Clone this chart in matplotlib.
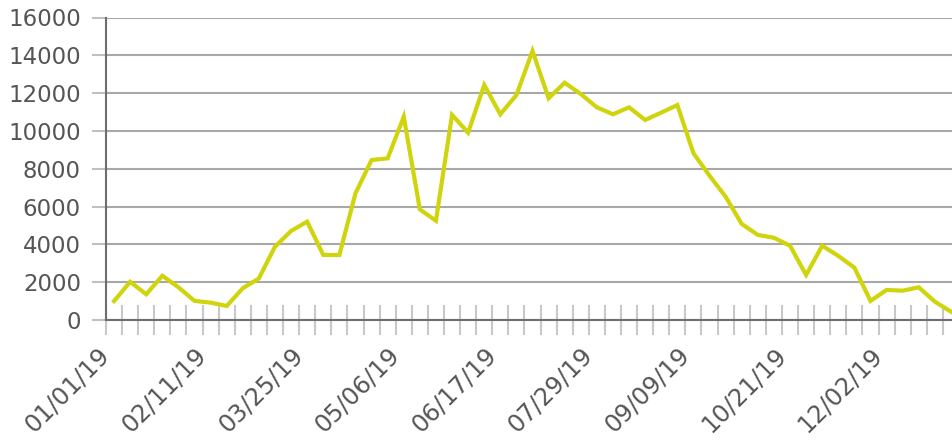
import numpy as np
import matplotlib
matplotlib.use("Agg")
import matplotlib.pyplot as plt

# weekly values
values = [1000, 2020, 1360, 2340, 1730, 1010, 920, 740, 1680, 2200,
          3880, 4710, 5200, 3440, 3440, 6700, 8460, 8550, 10750, 5850,
          5250, 10850, 9910, 12430, 10880, 11900, 14230, 11730, 12550, 11950,
          11250, 10880, 11250, 10580, 10970, 11370, 8820, 7630, 6520, 5080,
          4500, 4350, 3930, 2380, 3930, 3390, 2770, 1010, 1590, 1550,
          1730, 970, 440]

tick_labels = ["01/01/19", "02/11/19", "03/25/19", "05/06/19", "06/17/19",
               "07/29/19", "09/09/19", "10/21/19", "12/02/19"]
label_every = 6

line_color = "#d0d40c"
grid_color = "#a8a8a8"
axis_color = "#6e6e6e"
text_color = "#555555"

fig = plt.figure(figsize=(9.53, 4.46), dpi=100)
W, H = 953, 446
left, right = 106.0, 959.0
top, bottom = 17.5, 320.0
ax = fig.add_axes([left / W, (H - bottom) / H, (right - left) / W, (bottom - top) / H])

x = np.arange(len(values))
ax.plot(x, values, color=line_color, lw=3.0, solid_joinstyle="miter", zorder=3, clip_on=False)

ax.set_xlim(-0.5, len(values) - 0.5)
ax.set_ylim(0, 16000)
ax.set_yticks(np.arange(0, 16001, 2000))
ax.yaxis.grid(True, color=grid_color, lw=1.5)
ax.set_axisbelow(True)

for s in ["top", "right"]:
    ax.spines[s].set_visible(False)
for s in ["left", "bottom"]:
    ax.spines[s].set_color(axis_color)
    ax.spines[s].set_linewidth(1.5)

# category boundaries as crossing ticks, labels every 6 weeks
ax.set_xticks(np.arange(-0.5, len(values), 1), minor=True)
label_pos = np.arange(0, len(values), label_every)
ax.set_xticks(label_pos)
ax.set_xticklabels([])
for pos, lab in zip(label_pos, tick_labels):
    ax.annotate(lab, xy=(pos, 0), xycoords=("data", "axes fraction"),
                xytext=(-8, -31), textcoords="offset pixels",
                rotation=45, rotation_mode="anchor", ha="right", va="center",
                fontsize=17.5, color=text_color, annotation_clip=False)
ax.tick_params(axis="x", which="major", length=0)
ax.tick_params(axis="x", which="minor", direction="inout", length=21,
               width=1.5, color="#c8c8c8")
ax.tick_params(axis="y", which="major", direction="out", length=10, width=1.5,
               color="#c0c0c0", labelsize=16.5, labelcolor=text_color, pad=8)

fig.savefig("out.png", dpi=100)
